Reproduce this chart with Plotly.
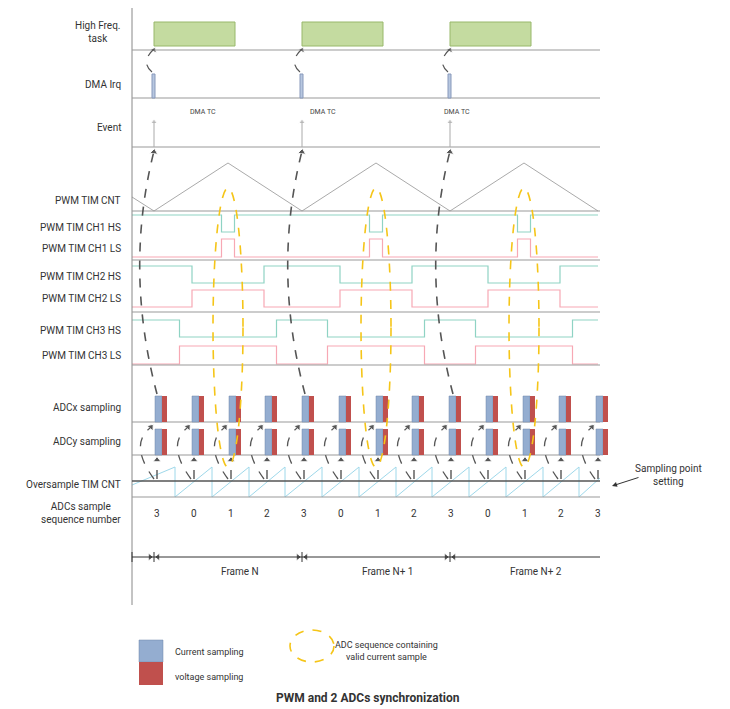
import plotly.graph_objects as go

# ── Data ──────────────────────────────────────────────────────────────
frame_starts = [154, 302, 450]          # PWM counter minima (frame start)
pwm_peaks = [228, 376, 524]
sample_x = [157, 194, 231, 267, 304, 341, 378, 414, 451, 488, 525, 561, 598]
seq_numbers = ["3", "0", "1", "2", "3", "0", "1", "2", "3", "0", "1", "2", "3"]
frame_labels = ["Frame N", "Frame N+ 1", "Frame N+ 2"]
row_labels = ["High Freq.<br>task", "DMA Irq", "Event", "PWM TIM CNT",
              "PWM TIM CH1 HS", "PWM TIM CH1 LS", "PWM TIM CH2 HS", "PWM TIM CH2 LS",
              "PWM TIM CH3 HS", "PWM TIM CH3 LS", "ADCx sampling", "ADCy sampling",
              "Oversample TIM CNT", "ADCs sample<br>sequence number"]
label_y = [32, 84, 127, 200, 227, 248, 276, 298, 330, 355, 407, 441, 484, 513]
ch_half_width = [6.5, 36, 48.5]          # CH1, CH2, CH3 pulse half widths

TEAL = "#8fd3c4"
PINK = "#f7a8b4"
GREY = "#999999"
BLUE = "#94add0"
RED = "#c0504d"
YEL = "#f5c518"
DASH = "#555555"

fig = go.Figure()
shapes, anns = [], []
heads = {"x": [], "y": [], "angle": [], "color": [], "size": []}

def line(x0, y0, x1, y1, color=GREY, width=1, dash=None):
    shapes.append(dict(type="line", x0=x0, y0=y0, x1=x1, y1=y1,
                       line=dict(color=color, width=width, dash=dash)))

def head(x, y, angle=0, color="#111", size=7):
    # angle in degrees clockwise from "up"
    heads["x"].append(x); heads["y"].append(y); heads["angle"].append(angle)
    heads["color"].append(color); heads["size"].append(size)

def curve(x0, y0, cx, cy, x1, y1, color=DASH, width=1.6, dash="dash"):
    shapes.append(dict(type="path", path=f"M {x0},{y0} Q {cx},{cy} {x1},{y1}",
                       line=dict(color=color, width=width, dash=dash)))

# axis and row separators
line(132, 0, 132, 605, "#888", 1)
for y in [50, 98, 147, 211, 260, 312, 365, 422, 455, 497]:
    line(132, y, 600, y, GREY, 1)
line(132, 481, 600, 481, "#555", 1.5)

# high freq task boxes, DMA irq, event
for f in frame_starts:
    shapes.append(dict(type="rect", x0=f, y0=22, x1=f + 81, y1=46,
                       fillcolor="#c4dba0", line=dict(color="#98b86a", width=1)))
    shapes.append(dict(type="rect", x0=f - 2, y0=74, x1=f + 1, y1=98,
                       fillcolor="#b7c7e0", line=dict(color="#8899bb", width=1)))
    line(f, 147, f, 122, "#aaa", 1)
    head(f, 122, 0, "#aaa", 6)
    curve(f - 2, 72, f - 14, 62, f, 49, width=1.2)
    head(f, 50, 30, "#111", 6)
for x, t in zip([203, 323, 457], ["DMA TC"] * 3):
    anns.append(dict(x=x, y=112, text=t, showarrow=False, font=dict(size=7, color="#444")))

# PWM counter triangle
tx = [132] + sum([[f, p] for f, p in zip(frame_starts, pwm_peaks)], []) + [598]
ty = [197] + [211, 163] * 3 + [211]
fig.add_trace(go.Scatter(x=tx, y=ty, mode="lines", line=dict(color="#aaa", width=1)))

# PWM channels
def pwm(hw, hi, lo, color, inverted):
    a, b = (hi, lo) if not inverted else (lo, hi)
    xs, ys = [132], [a]
    for p in pwm_peaks:
        xs += [p - hw, p - hw, p + hw, p + hw]
        ys += [a, b, b, a]
    xs.append(598); ys.append(a)
    fig.add_trace(go.Scatter(x=xs, y=ys, mode="lines", line=dict(color=color, width=1.2)))

pwm(ch_half_width[0], 215, 232, TEAL, False)
pwm(ch_half_width[0], 239, 257, PINK, True)
pwm(ch_half_width[1], 266, 283, TEAL, False)
pwm(ch_half_width[1], 290, 307, PINK, True)
pwm(ch_half_width[2], 320, 337, TEAL, False)
pwm(ch_half_width[2], 346, 364, PINK, True)

# ADC sampling bars
for x in sample_x:
    for y0, y1 in [(396, 422), (429, 455)]:
        shapes.append(dict(type="rect", x0=x - 2, y0=y0, x1=x + 5, y1=y1,
                           fillcolor=BLUE, line=dict(color="#6f86ab", width=0.5)))
        shapes.append(dict(type="rect", x0=x + 5, y0=y0, x1=x + 10, y1=y1,
                           fillcolor=RED, line=dict(width=0)))

# oversample sawtooth
sx, sy = [132], [485]
for x in sample_x[:-1]:
    sx += [x + 18, x + 18]
    sy += [467, 497]
sx.append(600); sy.append(478)
fig.add_trace(go.Scatter(x=sx, y=sy, mode="lines", line=dict(color="#9ed8ea", width=1)))

# sample arrows
for x in sample_x:
    line(x, 479, x, 462, DASH, 1.4, "dash")
    head(x, 460, 0)
    curve(x - 3, 479, x - 28, 445, x - 7, 428, width=1.3)
    head(x - 6, 427, 40)

# frame-start arrows from ADCx up to Event
for f in frame_starts:
    curve(f + 3, 394, f - 30, 270, f, 151, width=1.6)
    head(f, 152, 8)

# valid current sample ellipses
for p in pwm_peaks:
    shapes.append(dict(type="circle", x0=p - 15, y0=188, x1=p + 15, y1=467,
                       line=dict(color=YEL, width=1.6, dash="dash")))

# sequence numbers
for x, n in zip(sample_x, seq_numbers):
    anns.append(dict(x=x, y=513, text=n, showarrow=False, font=dict(size=10, color="#333")))

# frame indicator
line(132, 557, 600, 557, "#333", 1)
line(132, 552, 132, 562, "#333", 1)
for f in frame_starts:
    line(f, 552, f, 562, "#333", 1)
    head(f - 4, 557, 90, "#111", 7)
    head(f + 4, 557, 270, "#111", 7)
for f, t in zip(frame_starts, frame_labels):
    anns.append(dict(x=f + 86, y=571, text=t, showarrow=False, font=dict(size=10, color="#333")))

# row labels
for t, y in zip(row_labels, label_y):
    anns.append(dict(x=123, y=y, text=t, showarrow=False, xanchor="right",
                     align="center", font=dict(size=10, color="#333")))

# sampling point setting
anns.append(dict(x=668, y=475, text="Sampling point<br>setting", showarrow=False,
                 font=dict(size=10, color="#333")))
anns.append(dict(x=612, y=486, ax=640, ay=477, xref="x", yref="y", axref="x", ayref="y",
                 text="", showarrow=True, arrowhead=2, arrowsize=1, arrowwidth=1,
                 arrowcolor="#333"))

# legend
shapes.append(dict(type="rect", x0=139, y0=640, x1=163, y1=662, fillcolor=BLUE,
                   line=dict(color="#6f86ab", width=0.5)))
shapes.append(dict(type="rect", x0=139, y0=662, x1=163, y1=685, fillcolor=RED,
                   line=dict(width=0)))
anns.append(dict(x=173, y=652, text="Current sampling", xanchor="left", showarrow=False,
                 font=dict(size=9, color="#333")))
anns.append(dict(x=173, y=677, text="voltage sampling", xanchor="left", showarrow=False,
                 font=dict(size=9, color="#333")))
shapes.append(dict(type="circle", x0=290, y0=630, x1=334, y1=662,
                   line=dict(color=YEL, width=1.6, dash="dash")))
anns.append(dict(x=386, y=651, text="ADC sequence containing<br>valid current sample",
                 showarrow=False, font=dict(size=9, color="#333")))
anns.append(dict(x=368, y=698, text="<b>PWM and 2 ADCs synchronization</b>",
                 showarrow=False, font=dict(size=12, color="#333")))

fig.add_trace(go.Scatter(x=heads["x"], y=heads["y"], mode="markers", hoverinfo="skip",
                         marker=dict(symbol="triangle-up", size=heads["size"],
                                     angle=heads["angle"], color=heads["color"])))

# page body has an 8px margin: offset ranges so coordinates match window pixels
fig.update_layout(
    width=730, height=709, margin=dict(l=0, r=0, t=0, b=0),
    paper_bgcolor="white", plot_bgcolor="white", showlegend=False,
    font=dict(family="Roboto, Arial, sans-serif"),
    xaxis=dict(range=[8, 738], visible=False, fixedrange=True),
    yaxis=dict(range=[717, 8], visible=False, fixedrange=True),
    shapes=shapes, annotations=anns,
)

fig.write_html("out.html")
